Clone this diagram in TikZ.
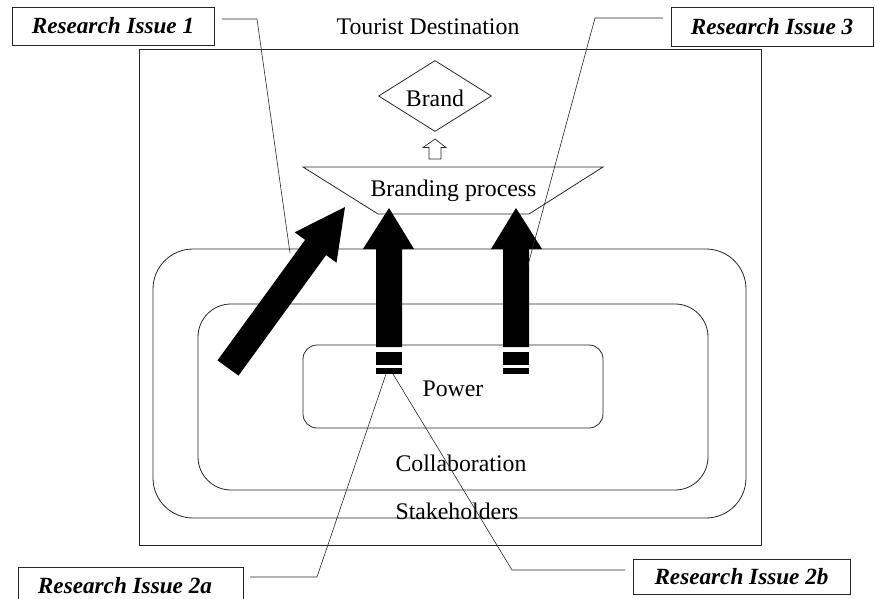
\documentclass[tikz,border=0pt]{standalone}
\usepackage{fontspec}
\setmainfont{Liberation Serif}
\usetikzlibrary{shapes.geometric}
\begin{document}
\begin{tikzpicture}[x=1pt,y=-1pt,
  ln/.style={line width=0.8pt, draw=black!85},
  rbox/.style={ln, rectangle, inner sep=0pt},
  issue/.style={ln, rectangle, inner sep=0pt, font=\fontsize{23.2}{27}\selectfont\bfseries\itshape},
  lbl/.style={inner sep=0pt, font=\fontsize{23.8}{28}\selectfont},
  blk/.style={fill=black, draw=none}]
\clip (0,0) rectangle (875,599);
% outer box
\node[rbox, minimum width=622pt, minimum height=496pt] (dest) at (450,297) {};
\node[lbl] (destl) at (428,27) {Tourist Destination};
% rounded boxes
\node[rbox, rounded corners=40pt, minimum width=593pt, minimum height=269pt] (stake) at (449.5,383.5) {};
\node[rbox, rounded corners=33pt, minimum width=510pt, minimum height=186pt] (collab) at (453,397) {};
\node[rbox, rounded corners=14pt, minimum width=300pt, minimum height=83pt] (power) at (453,386.5) {};
\node[lbl] (powerl) at (453,389) {Power};
\node[lbl] (collabl) at (461,463) {Collaboration};
\node[lbl] (stakel) at (457,511) {Stakeholders};
% brand diamond
\node[ln, diamond, aspect=1.59, inner sep=0pt, minimum width=113pt, minimum height=71pt] (brand) at (435,96) {};
\node[lbl] (brandl) at (435,98) {Brand};
% hollow arrow
\draw[ln, line width=0.7pt] (435,139) -- (446,147.5) -- (441,147.5) -- (441,159) -- (429,159) -- (429,147.5) -- (423,147.5) -- cycle;
% trapezoid
\coordinate (t1) at (303,167); \coordinate (t2) at (603,167);
\coordinate (t3) at (529,214); \coordinate (t4) at (378,214);
\draw[ln] (t1) -- (t2) -- (t3) -- (t4) -- cycle;
\node[lbl] (bpl) at (453.5,191) {Branding process};
% black arrows
\fill[blk] (217.5,360.4) -- (305.1,239.9) -- (294.7,232.3) -- (345,207) -- (336.5,262.7) -- (326.1,255.1) -- (238.5,375.6) -- cycle;
\fill[blk] (376,347) -- (376,249) -- (363,249) -- (389,208) -- (414,249) -- (402,249) -- (402,347) -- cycle;
\fill[blk] (503,347) -- (503,249) -- (491,249) -- (516,208) -- (542,249) -- (529,249) -- (529,347) -- cycle;
\fill[blk] (376,352) rectangle (402,365);
\fill[blk] (376,368) rectangle (402,374);
\fill[blk] (503,352) rectangle (529,365);
\fill[blk] (503,368) rectangle (529,374);
% research issue boxes
\node[issue, minimum width=202pt, minimum height=38pt] (ri1) at (113,26) {Research Issue 1};
\node[issue, minimum width=202pt, minimum height=39pt] (ri3) at (772,26.5) {Research Issue 3};
\node[issue, minimum width=225pt, minimum height=44pt, anchor=north west] (ri2a) at (18,567) {};
\node[font=\fontsize{23.2}{27}\selectfont\bfseries\itshape, inner sep=0pt] (ri2al) at (125,586) {Research Issue 2a};
\node[issue, minimum width=217pt, minimum height=35pt] (ri2b) at (741.5,576.5) {Research Issue 2b};
% leaders
\coordinate (c1a) at (222,19); \coordinate (c1b) at (257,19); \coordinate (c1c) at (290,253);
\draw[ln, line width=0.6pt] (c1a) -- (c1b) -- (c1c);
\coordinate (c3a) at (663,18); \coordinate (c3b) at (595,18); \coordinate (c3c) at (528,265);
\draw[ln, line width=0.6pt] (c3a) -- (c3b) -- (c3c);
\coordinate (c2aa) at (250,577); \coordinate (c2ab) at (317,577); \coordinate (c2ac) at (386,374);
\draw[ln, line width=0.6pt] (c2aa) -- (c2ab) -- (c2ac);
\coordinate (c2ba) at (625,570); \coordinate (c2bb) at (512,570); \coordinate (c2bc) at (393,374);
\draw[ln, line width=0.6pt] (c2ba) -- (c2bb) -- (c2bc);
\end{tikzpicture}
\end{document}
